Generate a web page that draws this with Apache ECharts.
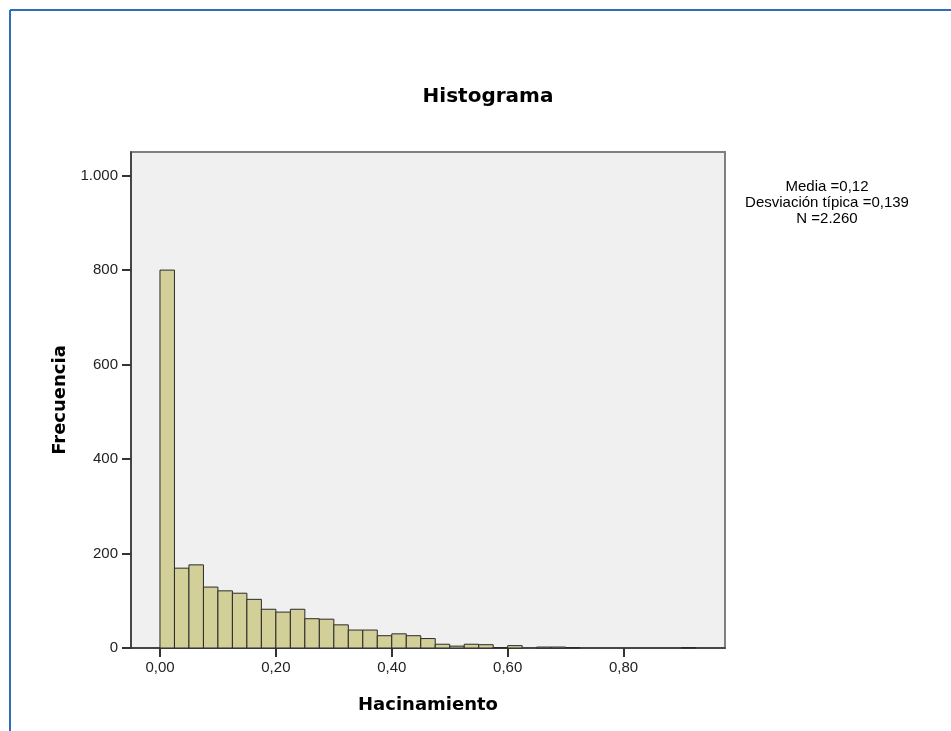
<!DOCTYPE html>
<html>
<head>
<meta charset="utf-8">
<script src="https://cdn.jsdelivr.net/npm/echarts@6/dist/echarts.min.js"></script>
<style>
  html, body { margin: 0; padding: 0; background: #fff; }
  #chart { width: 951px; height: 731px; }
</style>
</head>
<body>
<div id="chart"></div>
<script>
// histograma de Hacinamiento, intervalos de 0,025
var binWidth = 0.025;
var frecuencias = [800, 169, 176, 129, 121, 116, 103, 82, 76, 82, 62, 61, 49, 38, 38, 26, 30, 26, 20, 8,
                   4, 8, 7, 1, 5, 0, 2, 2, 1, 0, 0, 0, 0, 0, 0, 0, 1];
var xTicks = [0, 0.2, 0.4, 0.6, 0.8];
var yTicks = [0, 200, 400, 600, 800, 1000];
var estadisticos = ['Media =0,12', 'Desviación típica =0,139', 'N =2.260'];

var chart = echarts.init(document.getElementById('chart'));

// [inicio, fin, frecuencia] para cada barra
var barras = frecuencias.map(function (f, i) {
  return [i * binWidth, (i + 1) * binWidth, f];
});

var option = {
  backgroundColor: '#fff',
  animation: false,
  textStyle: { fontFamily: 'Liberation Sans' },
  title: {
    text: 'Histograma',
    left: 483,
    top: 82,
    textAlign: 'center',
    textStyle: { fontFamily: 'DejaVu Sans', fontWeight: 'bold', fontSize: 20, color: '#000' }
  },
  graphic: [
    // marco azul
    { type: 'line', shape: { x1: 10, y1: 10, x2: 951, y2: 10 }, style: { stroke: '#2f6fba', lineWidth: 2 } },
    { type: 'line', shape: { x1: 10, y1: 10, x2: 10, y2: 731 }, style: { stroke: '#2f6fba', lineWidth: 2 } },
    {
      type: 'text',
      x: 827,
      y: 179,
      style: {
        text: estadisticos.join('\n'),
        align: 'center',
        verticalAlign: 'top',
        fill: '#000',
        font: '15px "Liberation Sans"',
        lineHeight: 16
      }
    }
  ],
  grid: {
    left: 131,
    top: 152,
    width: 594,
    height: 496,
    show: true,
    backgroundColor: '#f0f0f0',
    borderColor: '#808080',
    borderWidth: 2
  },
  xAxis: {
    type: 'value',
    min: -0.05,
    max: 0.975,
    name: 'Hacinamiento',
    nameLocation: 'middle',
    nameGap: 48,
    nameTextStyle: { fontFamily: 'DejaVu Sans', fontWeight: 'bold', fontSize: 18, color: '#000' },
    axisLine: { onZero: false, lineStyle: { color: '#333', width: 1.5 } },
    axisTick: { show: true, customValues: xTicks, length: 9, lineStyle: { color: '#333', width: 2 } },
    axisLabel: {
      customValues: xTicks,
      margin: 12,
      fontSize: 15,
      color: '#222',
      formatter: function (v) { return v.toFixed(2).replace('.', ','); }
    },
    splitLine: { show: false }
  },
  yAxis: {
    type: 'value',
    min: 0,
    max: 1050,
    name: 'Frecuencia',
    nameLocation: 'middle',
    nameGap: 58,
    nameTextStyle: { fontFamily: 'DejaVu Sans', fontWeight: 'bold', fontSize: 18, color: '#000' },
    axisLine: { show: true, onZero: false, lineStyle: { color: '#333', width: 1.5 } },
    axisTick: { show: true, customValues: yTicks, length: 9, lineStyle: { color: '#333', width: 2 } },
    axisLabel: {
      customValues: yTicks,
      margin: 13,
      fontSize: 15,
      color: '#222',
      formatter: function (v) { return v >= 1000 ? (v / 1000).toFixed(3) : String(v); }
    },
    splitLine: { show: false }
  },
  series: [{
    type: 'custom',
    data: barras,
    renderItem: function (params, api) {
      var f = api.value(2);
      if (!f) return null;
      var p0 = api.coord([api.value(0), f]);
      var p1 = api.coord([api.value(1), 0]);
      return {
        type: 'rect',
        shape: { x: p0[0], y: p0[1], width: p1[0] - p0[0], height: p1[1] - p0[1] },
        style: { fill: '#d3cf98', stroke: '#2a2a2a', lineWidth: 1 }
      };
    },
    encode: { x: [0, 1], y: 2 }
  }]
};

chart.setOption(option);
</script>
</body>
</html>
